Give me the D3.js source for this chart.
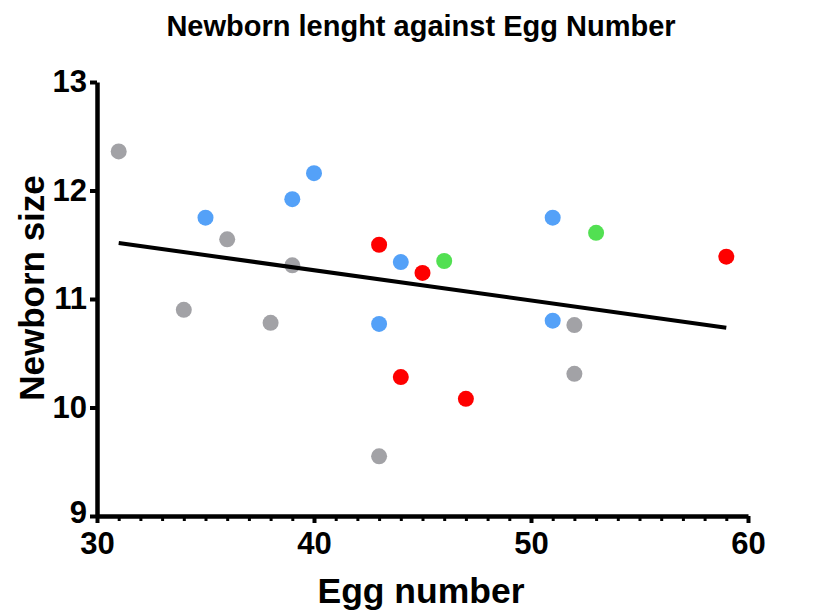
<!DOCTYPE html>
<html>
<head>
<meta charset="utf-8">
<script src="https://cdn.jsdelivr.net/npm/d3@7"></script>
<style>
  html, body { margin: 0; padding: 0; background: #fff; }
  svg { display: block; font-family: "Liberation Sans", Arial, sans-serif; }
</style>
</head>
<body>
<svg id="chart" width="831" height="613"></svg>
<script>
// Egg number (x) and newborn size (y), one pair of arrays per group
const grayEggs   = [31, 34, 36, 38, 39, 43, 52, 52];
const graySizes  = [12.36, 10.90, 11.55, 10.78, 11.31, 9.55, 10.76, 10.31];
const blueEggs   = [35, 39, 40, 44, 43, 51, 51];
const blueSizes  = [11.75, 11.92, 12.16, 11.34, 10.77, 11.75, 10.80];
const redEggs    = [43, 45, 44, 47, 59];
const redSizes   = [11.50, 11.24, 10.28, 10.08, 11.39];
const greenEggs  = [46, 53];
const greenSizes = [11.35, 11.61];

const xTicks = [30, 40, 50, 60];
const yTicks = [9, 10, 11, 12, 13];

const groups = [
  { eggs: grayEggs,  sizes: graySizes,  color: "#a2a2a6" },
  { eggs: blueEggs,  sizes: blueSizes,  color: "#54a1f8" },
  { eggs: redEggs,   sizes: redSizes,   color: "#fe0000" },
  { eggs: greenEggs, sizes: greenSizes, color: "#52e052" }
];

const svg = d3.select("#chart");

const x = d3.scaleLinear().domain([30, 60]).range([97, 748]);
const y = d3.scaleLinear().domain([9, 13]).range([516, 82]);

// Title
svg.append("text")
  .attr("x", 421).attr("y", 36)
  .attr("text-anchor", "middle")
  .attr("font-weight", "bold")
  .attr("font-size", 29)
  .text("Newborn lenght against Egg Number");

// X axis: minor ticks every unit, then majors with labels
const xMinor = svg.append("g").attr("transform", `translate(0,${y(9)})`)
  .call(d3.axisBottom(x).tickValues(d3.range(30, 61, 1)).tickSize(5).tickFormat(""));
xMinor.select(".domain").remove();
xMinor.selectAll("line").attr("stroke", "#000").attr("stroke-width", 3);

const xAxis = svg.append("g").attr("transform", `translate(0,${y(9)})`)
  .call(d3.axisBottom(x).tickValues(xTicks).tickFormat(d3.format("d"))
    .tickSize(7).tickSizeOuter(0).tickPadding(9));
xAxis.select(".domain").attr("stroke-width", 4.5);
xAxis.selectAll("line").attr("stroke-width", 4);
xAxis.selectAll("text")
  .attr("font-size", 31).attr("font-weight", "bold").attr("fill", "#000")
  .attr("font-family", "Liberation Sans, Arial, sans-serif");

// Y axis
const yAxis = svg.append("g").attr("transform", `translate(${x(30)},0)`)
  .call(d3.axisLeft(y).tickValues(yTicks).tickFormat(d3.format("d"))
    .tickSize(7).tickSizeOuter(0).tickPadding(3));
yAxis.select(".domain").attr("stroke-width", 4.5);
yAxis.selectAll("line").attr("stroke-width", 4);
yAxis.selectAll("text")
  .attr("font-size", 31).attr("font-weight", "bold").attr("fill", "#000")
  .attr("font-family", "Liberation Sans, Arial, sans-serif");
yAxis.selectAll("text").filter(d => d === 9).attr("dy", "0.2em");

// Axis titles
svg.append("text")
  .attr("x", 421).attr("y", 603)
  .attr("text-anchor", "middle")
  .attr("font-weight", "bold").attr("font-size", 35.5)
  .text("Egg number");

svg.append("text")
  .attr("transform", `translate(44,288) rotate(-90)`)
  .attr("text-anchor", "middle")
  .attr("font-weight", "bold").attr("font-size", 35)
  .text("Newborn size");

// Least-squares fit over all points
const allEggs = groups.flatMap(g => g.eggs);
const allSizes = groups.flatMap(g => g.sizes);
const mx = d3.mean(allEggs), my = d3.mean(allSizes);
let sxy = 0, sxx = 0;
allEggs.forEach((e, i) => { sxy += (e - mx) * (allSizes[i] - my); sxx += (e - mx) ** 2; });
const slope = sxy / sxx, intercept = my - slope * mx;
const [xMin, xMax] = d3.extent(allEggs);

// Points
groups.forEach(g => {
  svg.append("g").selectAll("circle")
    .data(g.eggs.map((e, i) => [e, g.sizes[i]]))
    .join("circle")
    .attr("cx", d => x(d[0]))
    .attr("cy", d => y(d[1]))
    .attr("r", 8)
    .attr("fill", g.color);
});

svg.append("line")
  .attr("x1", x(xMin)).attr("y1", y(intercept + slope * xMin))
  .attr("x2", x(xMax)).attr("y2", y(intercept + slope * xMax))
  .attr("stroke", "#000").attr("stroke-width", 4);
</script>
</body>
</html>
